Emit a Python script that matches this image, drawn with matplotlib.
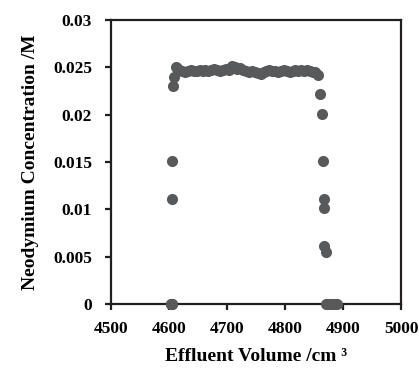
import matplotlib
matplotlib.use("Agg")
import matplotlib.pyplot as plt

# 数据
volume = [4603, 4604, 4605, 4606, 4606, 4606, 4607, 4609, 4612,
          4614, 4618, 4623, 4628, 4633, 4638, 4643, 4648, 4653, 4658,
          4663, 4668, 4673, 4678, 4683, 4688, 4693, 4698, 4703, 4708,
          4713, 4718, 4723, 4728, 4733, 4738, 4743, 4748, 4753, 4758,
          4763, 4768, 4773, 4778, 4783, 4788, 4793, 4798, 4803, 4808,
          4813, 4818, 4823, 4828, 4833, 4838, 4843, 4848, 4852, 4856,
          4860, 4863, 4865, 4867, 4867, 4868, 4870, 4870,
          4874, 4878, 4882, 4886, 4890]
conc = [0.0, 0.0, 0.0, 0.0111, 0.0151, 0.0, 0.0230, 0.0240, 0.0250,
        0.0249, 0.0247, 0.0246, 0.0245, 0.0246, 0.0247, 0.0246, 0.0246, 0.0247, 0.0246,
        0.0247, 0.0246, 0.0247, 0.0248, 0.0247, 0.0246, 0.0247, 0.0248, 0.0247, 0.0251,
        0.0250, 0.0248, 0.0249, 0.0247, 0.0246, 0.0245, 0.0246, 0.0245, 0.0244, 0.0243,
        0.0245, 0.0246, 0.0247, 0.0246, 0.0246, 0.0245, 0.0246, 0.0247, 0.0246, 0.0245,
        0.0246, 0.0247, 0.0246, 0.0247, 0.0246, 0.0247, 0.0246, 0.0245, 0.0245, 0.0242,
        0.0222, 0.0201, 0.0151, 0.0111, 0.0101, 0.0061, 0.0055, 0.0,
        0.0, 0.0, 0.0, 0.0, 0.0]

x_ticks = [4500, 4600, 4700, 4800, 4900, 5000]
y_ticks = [0, 0.005, 0.01, 0.015, 0.02, 0.025, 0.03]
y_labels = ['0', '0.005', '0.01', '0.015', '0.02', '0.025', '0.03']

plt.rcParams['font.family'] = ['Liberation Serif', 'DejaVu Serif']
plt.rcParams['font.weight'] = 'bold'

fig = plt.figure(figsize=(4.2, 3.72), dpi=100)
ax = fig.add_axes([0.264, 0.183, 0.691, 0.763])

ax.plot(volume, conc, 'o', color='#58595b', markersize=8, markeredgewidth=0, clip_on=False, zorder=3)

ax.set_xlim(4500, 5000)
ax.set_ylim(0, 0.03)
ax.set_xticks(x_ticks)
ax.set_xticklabels([str(v) for v in x_ticks], fontsize=12.5, fontweight='bold')
ax.set_yticks(y_ticks)
ax.set_yticklabels(y_labels, fontsize=12.5, fontweight='bold')

for s in ax.spines.values():
    s.set_linewidth(1.6)
    s.set_color('#231f20')
ax.tick_params(direction='out', length=4.5, width=1.6, color='#231f20')
ax.tick_params(axis='y', pad=9)
ax.tick_params(axis='x', pad=8)

ax.set_xlabel('Effluent Volume /cm \u00b3', fontsize=14, fontweight='bold', labelpad=8)
ax.set_ylabel('Neodymium Concentration /M', fontsize=14, fontweight='bold', labelpad=10)

fig.savefig('out.png', dpi=100)
